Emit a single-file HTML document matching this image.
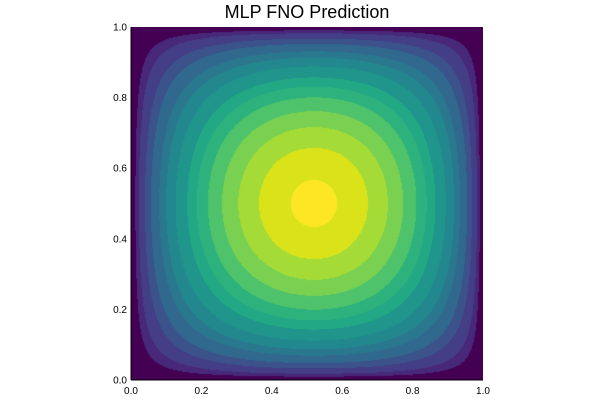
<!DOCTYPE html>
<html><head><meta charset="utf-8"><style>
body{margin:0;background:#fff;width:600px;height:400px;overflow:hidden;font-family:"Liberation Sans",sans-serif}
#wrap{position:relative;width:600px;height:400px}
canvas{position:absolute;left:131px;top:27px}
</style></head><body>
<div id="wrap">
<div style="position:absolute;left:0;width:614px;top:2px;text-align:center;font-size:18px">MLP FNO Prediction</div>
<canvas id="c" width="352" height="353"></canvas>
<svg id="ax" width="600" height="400" style="position:absolute;left:0;top:0"></svg>
</div>
<script>
const levels=[0.03,0.056,0.103,0.149,0.215,0.27,0.344,0.434,0.506,0.586,0.681,0.778,0.88,0.978];
const bandColors=["#440154","#482878","#433e85","#3b528b","#31688e","#2a788e","#23888e","#1f958b","#22a884","#2db27d","#4ec36b","#7ad151","#a5db36","#dae319","#fde725"];
const xTicks=[0,0.2,0.4,0.6,0.8,1.0];
const yTicks=[0,0.2,0.4,0.6,0.8,1.0];
const centerX=0.52, centerY=0.5;
const L=131,R=483,T=27,B=380;
const sx=v=>L+v*(R-L), sy=v=>B-v*(B-T);
const ax=Math.log(0.5)/Math.log(centerX), ay=Math.log(0.5)/Math.log(centerY);
function field(x,y){return Math.sin(Math.PI*Math.pow(x,ax))*Math.sin(Math.PI*Math.pow(y,ay));}
function hex(h){return [1,3,5].map(i=>parseInt(h.substr(i,2),16));}
const cv=document.getElementById('c'),ctx=cv.getContext('2d');
const W=cv.width,H=cv.height,img=ctx.createImageData(W,H);
const rgb=bandColors.map(hex);
for(let j=0;j<H;j++){for(let i=0;i<W;i++){
 const x=(i+0.5)/W,y=1-(j+0.5)/H;const f=field(x,y);
 let k=0;while(k<levels.length&&f>levels[k])k++;
 const c=rgb[k],p=(j*W+i)*4;img.data[p]=c[0];img.data[p+1]=c[1];img.data[p+2]=c[2];img.data[p+3]=255;}}
ctx.putImageData(img,0,0);
const svg=document.getElementById('ax'),NS="http://www.w3.org/2000/svg";
function mk(tag,a){const e=document.createElementNS(NS,tag);for(const k in a)e.setAttribute(k,a[k]);svg.appendChild(e);return e;}
let e=mk('line',{x1:L,y1:B,x2:R,y2:B,stroke:'#000','stroke-width':1});


e=mk('line',{x1:L,y1:T,x2:L,y2:B,stroke:'#000','stroke-width':1});


xTicks.forEach(v=>{
 const t=mk('text',{x:sx(v),y:B+14,'font-size':10,'text-anchor':'middle','font-family':'Liberation Sans'});t.textContent=v.toFixed(1);
 
 
});
yTicks.forEach(v=>{
 const t=mk('text',{x:L-4,y:sy(v)+3.5,'font-size':10,'text-anchor':'end','font-family':'Liberation Sans'});t.textContent=v.toFixed(1);
 
 
});
</script>
</body></html>
